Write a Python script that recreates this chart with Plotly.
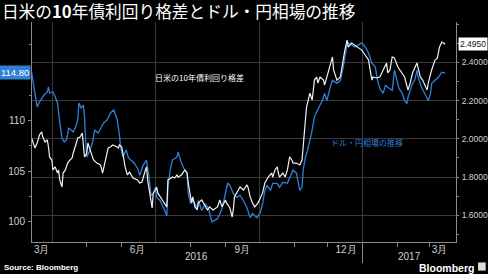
import plotly.graph_objects as go

# ---- data: USD/JPY (left axis) ----
usdjpy_dates = [
    "2016-03-13", "2016-03-15", "2016-03-18", "2016-03-20", "2016-03-24", "2016-03-27", "2016-03-28", "2016-03-29",
    "2016-04-01", "2016-04-03", "2016-04-05", "2016-04-07", "2016-04-09", "2016-04-11", "2016-04-13", "2016-04-15",
    "2016-04-17", "2016-04-19", "2016-04-21", "2016-04-23", "2016-04-24", "2016-04-26", "2016-04-28", "2016-04-29",
    "2016-04-30", "2016-05-01", "2016-05-04", "2016-05-06", "2016-05-08", "2016-05-11", "2016-05-14", "2016-05-16",
    "2016-05-19", "2016-05-22", "2016-05-25", "2016-05-28", "2016-05-30", "2016-05-31", "2016-06-02", "2016-06-05",
    "2016-06-07", "2016-06-09", "2016-06-12", "2016-06-15", "2016-06-17", "2016-06-20", "2016-06-23", "2016-06-25",
    "2016-06-27", "2016-06-29", "2016-07-01", "2016-07-02", "2016-07-05", "2016-07-08", "2016-07-11", "2016-07-12",
    "2016-07-14", "2016-07-16", "2016-07-20", "2016-07-21", "2016-07-24", "2016-07-27", "2016-07-29", "2016-07-30",
    "2016-08-01", "2016-08-03", "2016-08-07", "2016-08-08", "2016-08-11", "2016-08-14", "2016-08-17", "2016-08-20",
    "2016-08-23", "2016-08-25", "2016-08-29", "2016-09-01", "2016-09-03", "2016-09-05", "2016-09-08", "2016-09-11",
    "2016-09-14", "2016-09-17", "2016-09-20", "2016-09-23", "2016-09-25", "2016-09-29", "2016-10-02", "2016-10-04",
    "2016-10-06", "2016-10-08", "2016-10-11", "2016-10-13", "2016-10-17", "2016-10-19", "2016-10-22", "2016-10-26",
    "2016-10-28", "2016-10-31", "2016-11-03", "2016-11-06", "2016-11-08", "2016-11-09", "2016-11-11", "2016-11-13",
    "2016-11-17", "2016-11-19", "2016-11-22", "2016-11-26", "2016-11-28", "2016-11-30", "2016-12-03", "2016-12-05",
    "2016-12-09", "2016-12-12", "2016-12-14", "2016-12-16", "2016-12-18", "2016-12-19", "2016-12-22", "2016-12-25",
    "2016-12-28", "2016-12-31", "2017-01-03", "2017-01-06", "2017-01-09", "2017-01-12", "2017-01-14", "2017-01-16",
    "2017-01-19", "2017-01-21", "2017-01-23", "2017-01-27", "2017-01-29", "2017-01-31", "2017-02-02", "2017-02-05",
    "2017-02-07", "2017-02-09", "2017-02-10", "2017-02-14", "2017-02-16", "2017-02-18", "2017-02-19", "2017-02-22",
    "2017-02-25", "2017-02-28", "2017-03-02", "2017-03-03", "2017-03-06", "2017-03-09", "2017-03-12", "2017-03-15",
]
usdjpy_values = [
    114.80, 113.53, 111.36, 111.85, 112.54, 112.84, 113.34, 112.74,
    112.84, 112.35, 111.75, 109.87, 108.29, 107.89, 108.09, 109.28,
    109.08, 108.88, 109.38, 110.07, 111.75, 111.26, 111.55, 110.37,
    108.09, 106.41, 107.10, 107.79, 109.08, 108.78, 109.38, 109.77,
    110.07, 110.76, 111.06, 110.07, 108.58, 107.40, 106.41, 107.10,
    106.31, 106.11, 105.81, 105.30, 104.60, 105.60, 106.10, 104.60,
    102.60, 102.80, 103.40, 102.40, 102.10, 101.40, 100.60, 103.40,
    105.10, 106.10, 106.40, 106.90, 105.80, 105.10, 104.80, 102.80,
    101.80, 102.10, 101.40, 102.10, 101.10, 101.80, 101.30, 100.00,
    100.20, 100.30, 101.30, 102.80, 103.80, 103.60, 102.80, 102.40,
    102.60, 102.10, 101.40, 100.40, 100.80, 100.40, 100.90, 101.80,
    103.10, 103.60, 103.10, 103.80, 103.80, 103.40, 103.90, 103.80,
    104.40, 105.10, 104.80, 103.10, 103.40, 105.10, 106.40, 107.10,
    109.10, 110.40, 111.10, 112.00, 112.70, 112.00, 113.30, 114.00,
    113.70, 114.00, 115.00, 116.30, 117.50, 117.70, 117.50, 117.30,
    117.50, 117.70, 117.30, 116.70, 115.70, 115.30, 114.00, 113.20,
    112.70, 113.50, 113.30, 113.00, 115.00, 114.00, 113.20, 112.70,
    112.00, 111.70, 112.30, 113.70, 114.00, 115.00, 114.30, 113.30,
    112.70, 112.00, 112.70, 113.70, 114.00, 114.30, 114.80, 114.70,
]

# ---- data: US-Japan 10-year yield spread (right axis) ----
spread_dates = [
    "2016-03-13", "2016-03-14", "2016-03-16", "2016-03-18", "2016-03-19", "2016-03-20", "2016-03-22", "2016-03-23",
    "2016-03-25", "2016-03-27", "2016-03-28", "2016-03-29", "2016-03-31", "2016-04-01", "2016-04-03", "2016-04-05",
    "2016-04-06", "2016-04-07", "2016-04-09", "2016-04-10", "2016-04-12", "2016-04-13", "2016-04-14", "2016-04-16",
    "2016-04-18", "2016-04-19", "2016-04-21", "2016-04-22", "2016-04-23", "2016-04-25", "2016-04-27", "2016-04-28",
    "2016-04-29", "2016-05-01", "2016-05-02", "2016-05-04", "2016-05-06", "2016-05-07", "2016-05-10", "2016-05-13",
    "2016-05-14", "2016-05-15", "2016-05-17", "2016-05-19", "2016-05-20", "2016-05-22", "2016-05-24", "2016-05-28",
    "2016-05-29", "2016-05-30", "2016-06-01", "2016-06-02", "2016-06-04", "2016-06-06", "2016-06-08", "2016-06-11",
    "2016-06-15", "2016-06-17", "2016-06-19", "2016-06-22", "2016-06-23", "2016-06-24", "2016-06-26", "2016-06-28",
    "2016-06-29", "2016-07-01", "2016-07-02", "2016-07-03", "2016-07-07", "2016-07-09", "2016-07-11", "2016-07-12",
    "2016-07-14", "2016-07-16", "2016-07-18", "2016-07-20", "2016-07-21", "2016-07-24", "2016-07-27", "2016-07-29",
    "2016-07-30", "2016-08-01", "2016-08-02", "2016-08-03", "2016-08-05", "2016-08-07", "2016-08-08", "2016-08-11",
    "2016-08-14", "2016-08-16", "2016-08-18", "2016-08-21", "2016-08-25", "2016-08-27", "2016-08-29", "2016-09-01",
    "2016-09-02", "2016-09-05", "2016-09-07", "2016-09-08", "2016-09-09", "2016-09-11", "2016-09-14", "2016-09-17",
    "2016-09-20", "2016-09-21", "2016-09-23", "2016-09-25", "2016-09-27", "2016-09-30", "2016-10-02", "2016-10-04",
    "2016-10-06", "2016-10-09", "2016-10-12", "2016-10-13", "2016-10-15", "2016-10-17", "2016-10-18", "2016-10-19",
    "2016-10-22", "2016-10-24", "2016-10-26", "2016-10-28", "2016-10-30", "2016-10-31", "2016-11-03", "2016-11-06",
    "2016-11-08", "2016-11-09", "2016-11-11", "2016-11-12", "2016-11-13", "2016-11-15", "2016-11-17", "2016-11-18",
    "2016-11-19", "2016-11-21", "2016-11-22", "2016-11-24", "2016-11-27", "2016-11-28", "2016-11-30", "2016-12-03",
    "2016-12-05", "2016-12-06", "2016-12-07", "2016-12-09", "2016-12-12", "2016-12-14", "2016-12-16", "2016-12-18",
    "2016-12-19", "2016-12-22", "2016-12-25", "2016-12-28", "2016-12-31", "2017-01-03", "2017-01-06", "2017-01-07",
    "2017-01-09", "2017-01-10", "2017-01-13", "2017-01-16", "2017-01-19", "2017-01-22", "2017-01-23", "2017-01-25",
    "2017-01-27", "2017-01-29", "2017-02-01", "2017-02-05", "2017-02-07", "2017-02-10", "2017-02-12", "2017-02-14",
    "2017-02-16", "2017-02-18", "2017-02-21", "2017-02-23", "2017-02-27", "2017-02-28", "2017-03-03", "2017-03-06",
    "2017-03-08", "2017-03-10", "2017-03-12", "2017-03-15",
]
spread_values = [
    2.004, 1.983, 1.952, 1.978, 1.994, 2.020, 2.036, 2.009,
    1.983, 1.994, 1.957, 1.905, 1.889, 1.837, 1.853, 1.821,
    1.837, 1.785, 1.748, 1.821, 1.837, 1.853, 1.873, 1.889,
    1.900, 1.926, 1.957, 1.983, 2.004, 2.009, 2.030, 1.978,
    1.905, 1.926, 1.978, 1.941, 1.905, 1.889, 1.873, 1.863,
    1.847, 1.821, 1.873, 1.931, 1.952, 1.957, 1.968, 1.957,
    1.952, 1.968, 1.957, 1.926, 1.853, 1.811, 1.826, 1.795,
    1.785, 1.769, 1.774, 1.837, 1.853, 1.785, 1.717, 1.638,
    1.717, 1.732, 1.748, 1.717, 1.680, 1.665, 1.644, 1.785,
    1.795, 1.800, 1.795, 1.811, 1.800, 1.811, 1.837, 1.821,
    1.769, 1.680, 1.665, 1.696, 1.644, 1.628, 1.665, 1.680,
    1.644, 1.628, 1.644, 1.628, 1.644, 1.680, 1.644, 1.680,
    1.665, 1.638, 1.591, 1.628, 1.696, 1.717, 1.748, 1.732,
    1.758, 1.748, 1.696, 1.665, 1.644, 1.665, 1.696, 1.717,
    1.769, 1.800, 1.821, 1.800, 1.837, 1.853, 1.821, 1.800,
    1.821, 1.800, 1.837, 1.905, 1.889, 1.873, 1.873, 1.863,
    1.889, 1.978, 2.098, 2.166, 2.187, 2.239, 2.203, 2.255,
    2.307, 2.323, 2.292, 2.323, 2.307, 2.281, 2.323, 2.375,
    2.428, 2.360, 2.344, 2.307, 2.323, 2.396, 2.464, 2.516,
    2.480, 2.501, 2.490, 2.475, 2.464, 2.438, 2.412, 2.375,
    2.307, 2.323, 2.318, 2.323, 2.360, 2.396, 2.344, 2.360,
    2.428, 2.422, 2.375, 2.344, 2.323, 2.255, 2.292, 2.344,
    2.375, 2.396, 2.323, 2.307, 2.255, 2.292, 2.360, 2.412,
    2.422, 2.480, 2.506, 2.495,
]

# ---- axis labels ----
month_tick_dates = ["2016-03-22", "2016-06-15", "2016-09-16", "2016-12-17", "2017-03-10"]
month_tick_text = ["3月", "6月", "9月", "12月", "3月"]
year_label_dates = ["2016-08-06", "2017-02-11"]
year_label_text = ["2016", "2017"]
left_ticks = [100, 105, 110]
right_ticks = [1.6, 1.8, 2.0, 2.2, 2.4]

X_RANGE = ["2016-03-13 09:36", "2017-03-24 14:24"]
BLUE = "#2f80d6"
AXIS = "#8a8a8a"
GRID = "#3a3a3a"
TICKFONT = dict(family="Liberation Sans, Arial", size=10, color="#d0d0d0")
RTICKFONT = dict(family="Liberation Sans, Arial", size=8.5, color="#d0d0d0")
CJK = "Noto Sans CJK JP"

fig = go.Figure()
fig.add_trace(go.Scatter(x=usdjpy_dates, y=usdjpy_values, mode="lines",
                         line=dict(color=BLUE, width=1.3), yaxis="y", name="ドル・円"))
fig.add_trace(go.Scatter(x=spread_dates, y=spread_values, mode="lines",
                         line=dict(color="#f2f2f2", width=1.2), yaxis="y2", name="利回り格差"))
# empty helper traces so that the overlay x axes are drawn
fig.add_trace(go.Scatter(x=[], y=[], xaxis="x2", yaxis="y", hoverinfo="skip"))
fig.add_trace(go.Scatter(x=[], y=[], xaxis="x3", yaxis="y", hoverinfo="skip"))

annotations = [
    dict(text=f"{usdjpy_values[0]:.2f}", xref="paper", x=-0.002, yref="y", y=usdjpy_values[0],
         xanchor="right", yanchor="middle", showarrow=False, bgcolor=BLUE,
         font=dict(family="Liberation Sans, Arial", size=9.5, color="white"), borderpad=1),
    dict(text=f"{spread_values[-1]:.4f}", xref="paper", x=1.004, yref="y2", y=spread_values[-1],
         xanchor="left", yanchor="middle", showarrow=False, bgcolor="white",
         font=dict(family="Liberation Sans, Arial", size=8.5, color="#111"), borderpad=1),
    dict(text="日米の10年債利回り格差", xref="paper", x=0.395, yref="paper", y=0.75,
         xanchor="center", yanchor="middle",
         showarrow=False, font=dict(family=CJK, size=8, color="white")),
    dict(text="ドル・円相場の推移", xref="paper", x=0.79, yref="paper", y=0.4545,
         xanchor="center", yanchor="middle",
         showarrow=False, font=dict(family=CJK, size=8, color=BLUE)),
    dict(text="<b>Source: Bloomberg</b>", xref="paper", x=-0.071, yref="paper", y=-0.118,
         xanchor="left", yanchor="middle", showarrow=False,
         font=dict(family="Liberation Sans, Arial", size=8, color="white")),
    dict(text="<b>Bloomberg</b>", xref="paper", x=1.048, yref="paper", y=-0.118,
         xanchor="right", yanchor="middle", showarrow=False,
         font=dict(family="Liberation Sans, Arial", size=10.5, color="white")),
]
for d, t in zip(year_label_dates, year_label_text):
    annotations.append(dict(text=t, xref="x", x=d, yref="paper", y=-0.068, xanchor="center",
                            yanchor="middle", showarrow=False, font=TICKFONT))

fig.update_layout(
    width=488, height=274,
    margin=dict(l=32, r=32, t=22, b=32, autoexpand=False),
    paper_bgcolor="black", plot_bgcolor="black",
    showlegend=False,
    title=dict(text="日米の<b>10</b>年債利回り格差とドル・円相場の推移", xref="container", x=0.004,
               xanchor="left", y=0.956, yanchor="middle",
               font=dict(family=CJK, size=16.7, color="white")),
    xaxis=dict(type="date", range=X_RANGE, tick0="2016-01-01", dtick="M3", automargin=False,
               showticklabels=False, ticks="", showgrid=True, gridcolor=GRID, gridwidth=1,
               showline=True, linecolor=AXIS, linewidth=1, zeroline=False,
               minor=dict(ticks="outside", ticklen=4, tickcolor=AXIS, dtick="M1",
                          tick0="2016-01-01", showgrid=False)),
    xaxis2=dict(type="date", range=X_RANGE, overlaying="x", anchor="y", side="bottom",
                automargin=False, tickvals=month_tick_dates, ticktext=month_tick_text, ticks="",
                showgrid=False, showline=False, zeroline=False, tickfont=TICKFONT),
    xaxis3=dict(type="date", range=X_RANGE, overlaying="x", anchor="y", side="bottom",
                automargin=False, tickvals=["2017-01-01"], ticks="outside", ticklen=20,
                tickcolor=AXIS, showticklabels=False, showgrid=False, showline=False,
                zeroline=False),
    yaxis=dict(range=[97.99, 119.77], tickvals=left_ticks, ticks="outside", ticklen=3,
               automargin=False, tickcolor=AXIS, showgrid=False, showline=True,
               linecolor=AXIS, zeroline=False, tickfont=TICKFONT, ticklabelstandoff=1,
               minor=dict(tickvals=[97.5, 102.5, 107.5, 112.5, 117.5], ticks="outside",
                          ticklen=2, tickcolor=AXIS)),
    yaxis2=dict(range=[1.4604, 2.6107], tickvals=right_ticks, tickformat=".4f",
                overlaying="y", side="right", anchor="x", ticks="outside", ticklen=2,
                automargin=False, tickcolor=AXIS, showgrid=True, gridcolor=GRID, showline=True,
                linecolor=AXIS, zeroline=False, tickfont=RTICKFONT, ticklabelstandoff=1,
                minor=dict(dtick=0.1, tick0=1.5, ticks="outside", ticklen=2, tickcolor=AXIS)),
    annotations=annotations,
    shapes=[dict(type="rect", xref="paper", yref="paper", x0=1.052, x1=1.07, y0=-0.13, y1=-0.093,
                 fillcolor="#dddddd", line=dict(width=0))],
)

fig.write_html("out.html")
